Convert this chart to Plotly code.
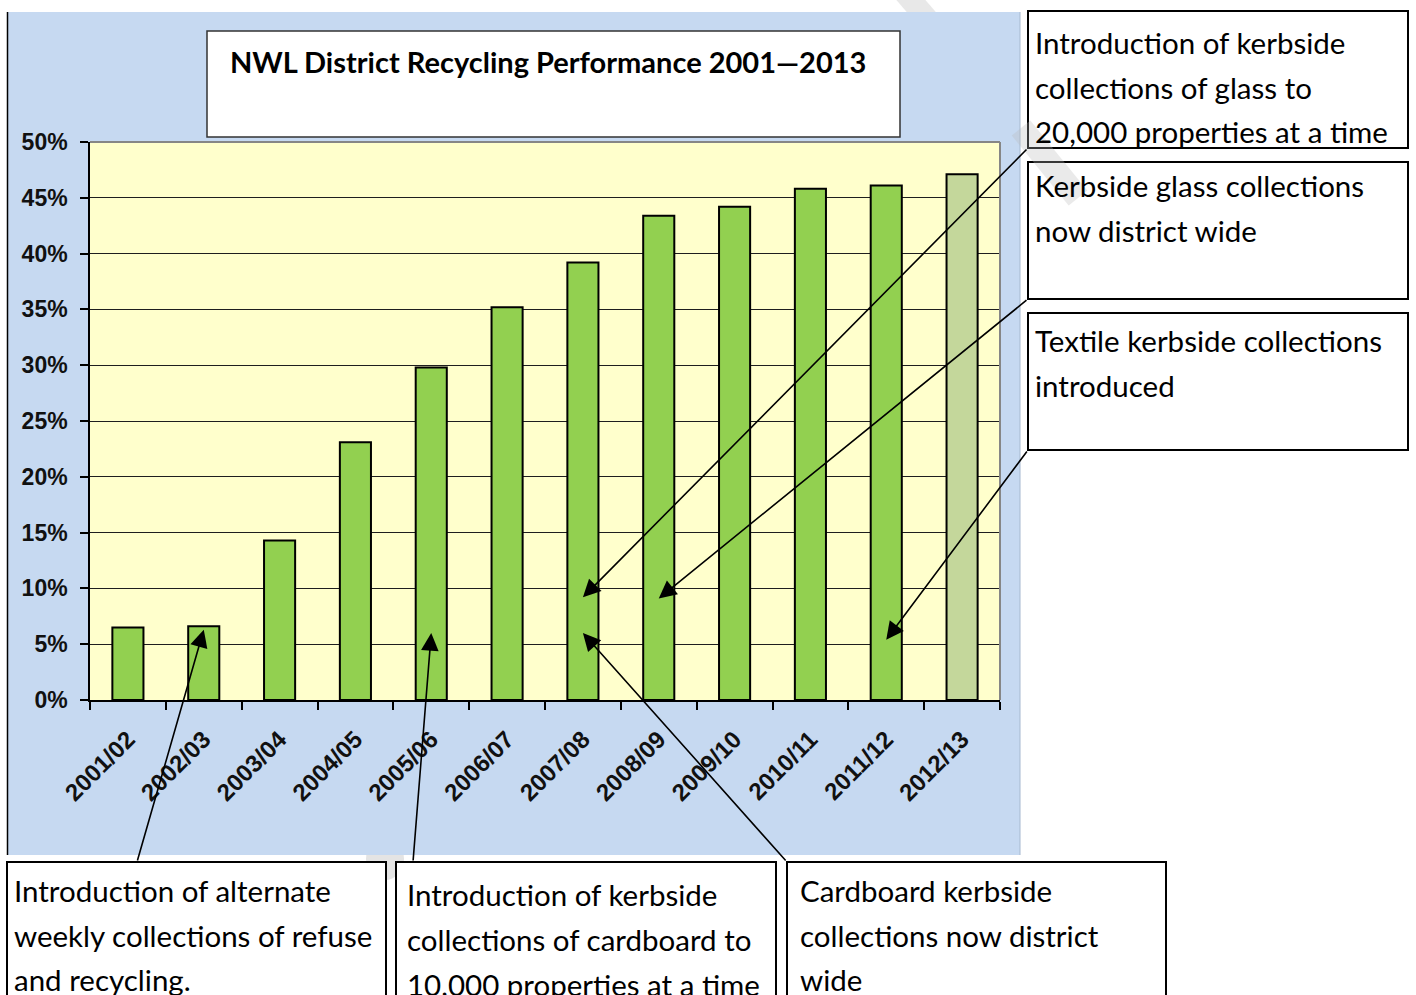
import plotly.graph_objects as go

# ---------------- data ----------------
years = ['2001/02', '2002/03', '2003/04', '2004/05', '2005/06', '2006/07',
         '2007/08', '2008/09', '2009/10', '2010/11', '2011/12', '2012/13']
rates = [0.065, 0.066, 0.143, 0.231, 0.298, 0.352, 0.392, 0.434, 0.442,
         0.458, 0.461, 0.471]
bar_colors = ['#92D050'] * 11 + ['#C4D79B']

title_text = 'NWL District Recycling Performance 2001\u20142013'

right_notes = [
    ['Introduction of kerbside', 'collections of glass to', '20,000 properties at a time'],
    ['Kerbside glass collections', 'now district wide'],
    ['Textile kerbside collections', 'introduced'],
]
bottom_notes = [
    ['Introduction of alternate', 'weekly collections of refuse', 'and recycling.'],
    ['Introduction of kerbside', 'collections of cardboard to', '10,000 properties at a time'],
    ['Cardboard kerbside', 'collections now district', 'wide'],
]
# arrows: head (category, value) -> tail at a note box corner (pixel position)
arrow_heads = [('2002/03', 0.063), ('2005/06', 0.060), ('2007/08', 0.060),
               ('2007/08', 0.092), ('2008/09', 0.091), ('2011/12', 0.054)]
arrow_tails_px = [(137, 862), (413, 862), (787, 862),
                  (1028, 148), (1028, 299), (1028, 450)]

# ---------------- layout geometry (pixels) ----------------
W, H = 1416, 995
L, R, T, B = 90, 1000, 142, 700
YMAX = 0.5


def px(x):
    return (x - L) / (R - L)


def py(y):
    return (B - y) / (B - T)


FONT_BOX = 'Lato'
FS_BOX = 29.5

fig = go.Figure()
fig.add_trace(go.Bar(
    x=years, y=rates,
    marker=dict(color=bar_colors, line=dict(color='black', width=2)),
    hoverinfo='x+y',
))

shapes = []
annotations = []

# watermark pieces (behind panel)
shapes.append(dict(type='line', xref='paper', yref='paper', layer='below',
                   x0=px(898), y0=py(-15), x1=px(935), y1=py(28),
                   line=dict(color='#E8E8E8', width=22)))
shapes.append(dict(type='circle', xref='paper', yref='paper', layer='below',
                   x0=px(366), y0=py(838), x1=px(404), y1=py(880),
                   fillcolor='#E4E4E4', line=dict(width=0)))
# blue chart panel
shapes.append(dict(type='rect', xref='paper', yref='paper', layer='below',
                   x0=px(7), y0=py(855), x1=px(1020), y1=py(12),
                   fillcolor='#C6D9F1', line=dict(width=0)))
shapes.append(dict(type='line', xref='paper', yref='paper', layer='below',
                   x0=px(7.5), y0=py(855), x1=px(7.5), y1=py(12),
                   line=dict(color='black', width=1.5)))
shapes.append(dict(type='line', xref='paper', yref='paper', layer='below',
                   x0=px(1020), y0=py(855), x1=px(1020), y1=py(12),
                   line=dict(color='#A6B8CF', width=1)))
# yellow plot area (panel shape sits above plot_bgcolor, so repaint it)
shapes.append(dict(type='rect', xref='paper', yref='paper', layer='below',
                   x0=0, y0=0, x1=1, y1=1,
                   fillcolor='#FFFFCC', line=dict(width=0)))
# plot area frame (top/right gray)
shapes.append(dict(type='line', xref='paper', yref='paper', layer='above',
                   x0=0, y0=1, x1=1, y1=1, line=dict(color='#868686', width=2)))
shapes.append(dict(type='line', xref='paper', yref='paper', layer='above',
                   x0=1, y0=0, x1=1, y1=1, line=dict(color='#868686', width=2)))

# title box
shapes.append(dict(type='rect', xref='paper', yref='paper', layer='above',
                   x0=px(207), y0=py(137), x1=px(900), y1=py(31),
                   fillcolor='white', line=dict(color='#333333', width=1.5)))
annotations.append(dict(xref='paper', yref='paper', x=px(228), y=py(62),
                        xanchor='left', yanchor='middle', showarrow=False,
                        text='<b>' + title_text + '</b>',
                        font=dict(family=FONT_BOX, size=29, color='black')))

# right boxes
right_boxes = [(11, 148, 42), (162, 299, 185), (313, 450, 340)]
for (top, bot, first), lines in zip(right_boxes, right_notes):
    shapes.append(dict(type='rect', xref='paper', yref='paper', layer='above',
                       x0=px(1028), y0=py(bot), x1=px(1408), y1=py(top),
                       fillcolor='white', line=dict(color='black', width=2)))
    for i, t in enumerate(lines):
        annotations.append(dict(xref='paper', yref='paper', x=px(1033),
                                y=py(first + 45 * i), xanchor='left',
                                yanchor='middle', showarrow=False, text=t,
                                font=dict(family=FONT_BOX, size=FS_BOX, color='black')))

# bottom boxes
bottom_boxes = [(7, 386, 12, 890), (396, 776, 405, 894), (787, 1166, 798, 890)]
for (x0, x1, tx, first), lines in zip(bottom_boxes, bottom_notes):
    shapes.append(dict(type='rect', xref='paper', yref='paper', layer='above',
                       x0=px(x0), y0=py(1010), x1=px(x1), y1=py(862),
                       fillcolor='white', line=dict(color='black', width=2)))
    for i, t in enumerate(lines):
        annotations.append(dict(xref='paper', yref='paper', x=px(tx),
                                y=py(first + 45 * i), xanchor='left',
                                yanchor='middle', showarrow=False, text=t,
                                font=dict(family=FONT_BOX, size=FS_BOX, color='black')))

# watermark piece over right boxes
shapes.append(dict(type='line', xref='paper', yref='paper', layer='above',
                   x0=px(1021), y0=py(128), x1=px(1078), y1=py(198),
                   line=dict(color='#BBBBBB', width=24), opacity=0.3))

# arrows: head in data coordinates, tail as pixel offset to the note box
n = len(years)
for (cat, val), (tx, ty) in zip(arrow_heads, arrow_tails_px):
    hx = L + (years.index(cat) + 0.5) * (R - L) / n
    hy = B - val / YMAX * (B - T)
    annotations.append(dict(x=cat, y=val, xref='x', yref='y',
                            ax=tx - hx, ay=ty - hy, axref='pixel', ayref='pixel',
                            text='', showarrow=True, arrowhead=2,
                            arrowsize=2.2, arrowwidth=1.6, arrowcolor='black',
                            standoff=0, startstandoff=0))

fig.update_layout(
    width=W, height=H, autosize=False,
    margin=dict(l=L, r=W - R, t=T, b=H - B, pad=0),
    paper_bgcolor='white', plot_bgcolor='#FFFFCC',
    bargap=0.59, showlegend=False,
    shapes=shapes, annotations=annotations,
    font=dict(family='Liberation Sans', color='black'),
)
fig.update_yaxes(range=[0, YMAX], dtick=0.05, tickformat='.0%',
                 showgrid=True, gridcolor='#1e1e1e', gridwidth=1,
                 ticks='outside', ticklen=8, tickcolor='black', tickwidth=1.5,
                 showline=True, linecolor='black', linewidth=1.5,
                 zeroline=False, ticklabelstandoff=8,
                 tickfont=dict(family='Liberation Sans', size=23, color='#111111',
                               weight='bold'))
fig.update_xaxes(type='category', range=[-0.5, n - 0.5], tickangle=-45,
                 tickson='boundaries',
                 ticks='outside', ticklen=8, tickcolor='black', tickwidth=1.5,
                 showline=True, linecolor='black', linewidth=1.5,
                 showgrid=False, ticklabelstandoff=14,
                 tickfont=dict(family='Liberation Sans', size=24, color='#111111',
                               weight='bold'))

fig.write_html('out.html', config={'displayModeBar': False},
               post_script="document.body.style.margin='0';"
                           "document.body.style.overflow='hidden';")
